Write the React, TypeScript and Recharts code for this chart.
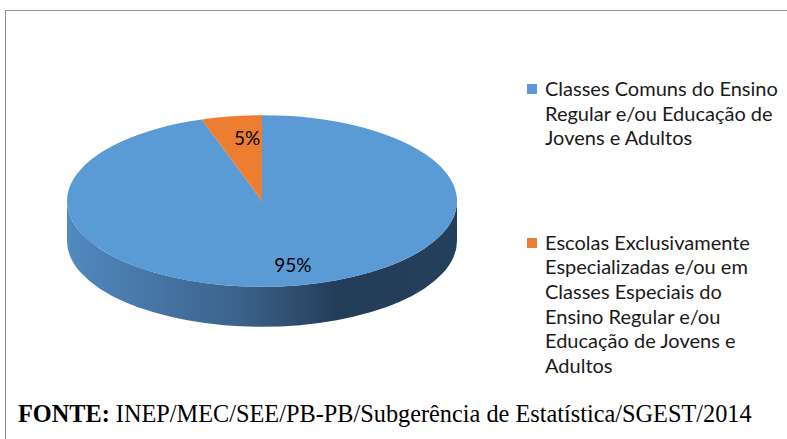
import React from "react";
import { PieChart, Pie, Cell, Legend } from "recharts";

const categorias = [
  "Classes Comuns do Ensino\nRegular e/ou Educação de\nJovens e Adultos",
  "Escolas Exclusivamente\nEspecializadas e/ou em\nClasses Especiais do\nEnsino Regular e/ou\nEducação de Jovens e\nAdultos",
];
const valores = [95, 5];
const cores = ["#5b9bd5", "#ed7d31"];

const data = categorias.map((nome, i) => ({ nome, valor: valores[i] }));

// achatamento da elipse e profundidade do "3D"
const RY = 0.44;
const DEPTH = 40;
const RAD = Math.PI / 180;

function SetorEliptico(props: any) {
  const { cx, cy, outerRadius, startAngle, endAngle, fill, index } = props;
  const rx = outerRadius;
  const ry = outerRadius * RY;
  const pt = (a: number) => [cx + rx * Math.cos(a * RAD), cy - ry * Math.sin(a * RAD)];
  const [x1, y1] = pt(startAngle);
  const [x2, y2] = pt(endAngle);
  const large = Math.abs(endAngle - startAngle) > 180 ? 1 : 0;
  const topo = `M${cx},${cy} L${x1},${y1} A${rx},${ry} 0 ${large} 1 ${x2},${y2} Z`;
  const lateral =
    `M${cx - rx},${cy} A${rx},${ry} 0 0 0 ${cx + rx},${cy} ` +
    `L${cx + rx},${cy + DEPTH} A${rx},${ry} 0 0 1 ${cx - rx},${cy + DEPTH} Z`;
  return (
    <g>
      {index === 0 && (
        <>
          <defs>
            <linearGradient id="lado" x1="0" y1="0" x2="1" y2="0">
              <stop offset="0%" stopColor="#5189c0" />
              <stop offset="45%" stopColor="#3b6189" />
              <stop offset="70%" stopColor="#233c57" />
              <stop offset="100%" stopColor="#25405b" />
            </linearGradient>
          </defs>
          <path d={lateral} fill="url(#lado)" />
        </>
      )}
      <path d={topo} fill={fill} />
    </g>
  );
}

function Rotulo(props: any) {
  const { cx, cy, midAngle, outerRadius, value } = props;
  const f = 0.75;
  // leve deslocamento para a direita, como no Excel 3D
  const x = cx + outerRadius * f * Math.cos(midAngle * RAD) + 8;
  const y = cy - outerRadius * RY * f * Math.sin(midAngle * RAD);
  return (
    <text x={x} y={y} textAnchor="middle" dominantBaseline="central" fill="#000" fontSize={19}>
      {`${value}%`}
    </text>
  );
}

function Legenda({ payload }: any) {
  return (
    <div style={{ fontFamily: "Lato", fontSize: 20, lineHeight: "24.6px", color: "#1a1a1a" }}>
      {(payload || []).map((p: any, i: number) => (
        <div key={i} style={{ display: "flex", marginBottom: i === 0 ? 80 : 0 }}>
          <div style={{ width: 10, height: 10, background: p.color, marginTop: 8, marginRight: 8, flexShrink: 0 }} />
          <div style={{ whiteSpace: "pre-line" }}>{p.value}</div>
        </div>
      ))}
    </div>
  );
}

export default function App() {
  return (
    <div style={{ position: "absolute", left: 0, top: 0, width: 787, height: 439, background: "#fff", overflow: "hidden" }}>
      <div style={{ position: "absolute", left: 5, top: 10, width: 900, height: 600, borderTop: "1px solid #909090", borderLeft: "1px solid #909090" }} />
      <div style={{ position: "absolute", left: 0, top: 0 }}>
        <PieChart width={787} height={390} margin={{ top: 0, right: 0, bottom: 0, left: 0 }} style={{ fontFamily: "Lato" }}>
          <Pie
            data={data}
            dataKey="valor"
            nameKey="nome"
            cx={262}
            cy={201}
            outerRadius={195}
            startAngle={90}
            endAngle={-270}
            stroke="none"
            shape={SetorEliptico}
            label={Rotulo}
            labelLine={false}
            isAnimationActive={false}
          >
            {data.map((d, i) => (
              <Cell key={d.nome} fill={cores[i]} />
            ))}
          </Pie>
          <Legend
            layout="vertical"
            content={<Legenda />}
            wrapperStyle={{ position: "absolute", left: 527, top: 76, width: 260 }}
          />
        </PieChart>
      </div>
      <div style={{ position: "absolute", left: 18, top: 400, fontFamily: "Liberation Serif", fontSize: 24.3, color: "#000", whiteSpace: "nowrap" }}>
        <b>FONTE:</b> INEP/MEC/SEE/PB-PB/Subgerência de Estatística/SGEST/2014
      </div>
    </div>
  );
}
